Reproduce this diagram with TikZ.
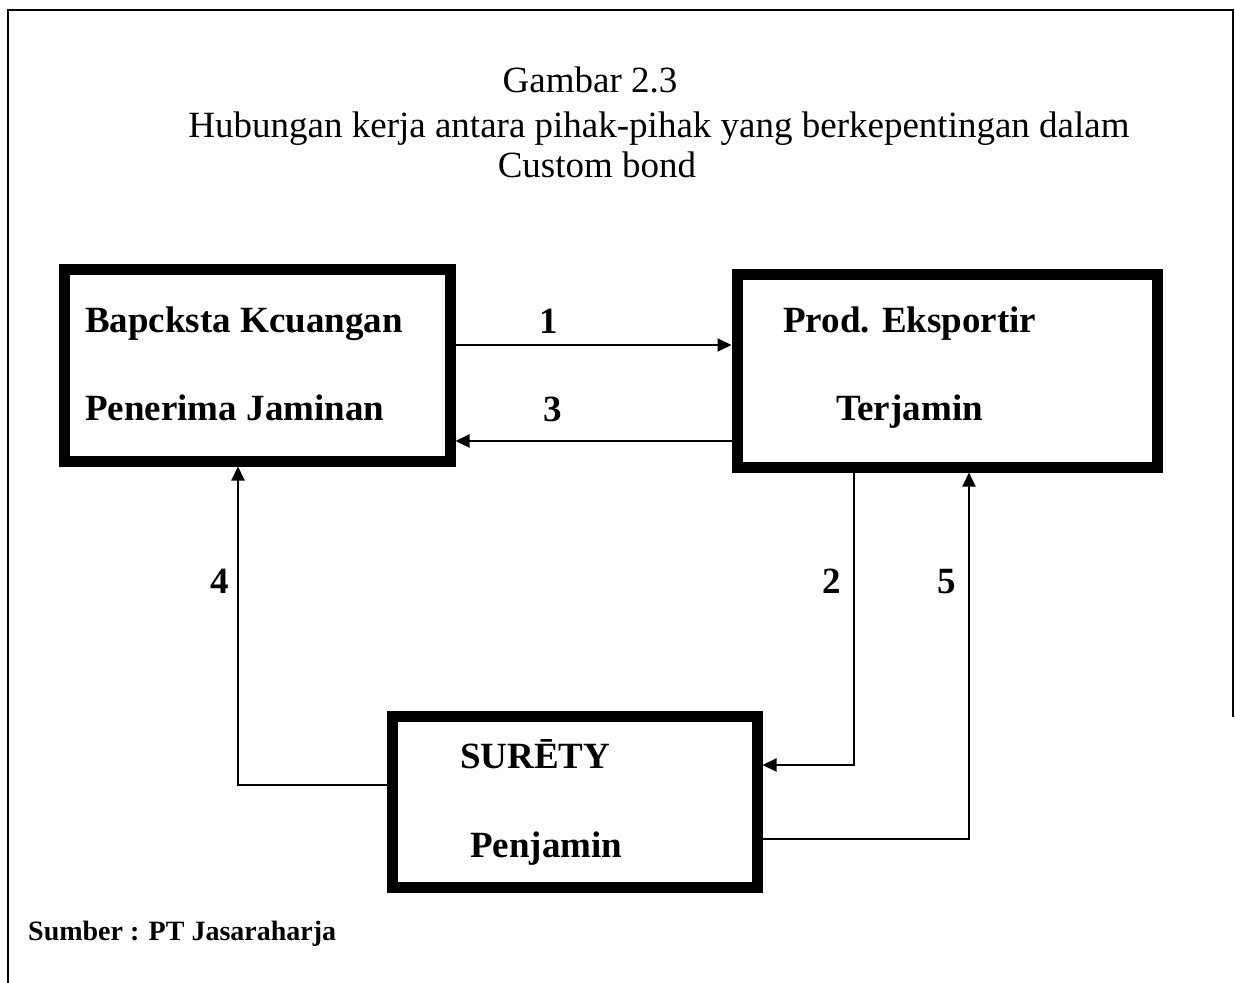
\documentclass[tikz,border=0pt]{standalone}
\usepackage{fontspec}
\setmainfont{Liberation Serif}
\usetikzlibrary{arrows.meta}
\begin{document}
\begin{tikzpicture}[x=1pt,y=-1pt,
  party/.style={draw,line width=11pt,rectangle,inner sep=0pt},
  arr/.style={line width=2pt,-{Triangle[length=14pt,width=13pt]}},
  lbl/.style={inner sep=0pt,anchor=base west,font=\fontsize{37}{44}\selectfont\bfseries},
  num/.style={inner sep=0pt,anchor=base,font=\fontsize{37}{44}\selectfont\bfseries},
  ttl/.style={inner sep=0pt,anchor=base,font=\fontsize{37}{44}\selectfont}]
\useasboundingbox (0,0) rectangle (1235,983);
% frame
\draw[line width=2.5pt] (8,983) -- (8,10) -- (1233,10) -- (1233,717);
% title
\node[ttl] (t1) at (590,92) {Gambar 2.3};
\node[ttl] (t2) at (659,137) {Hubungan kerja antara pihak-pihak yang berkepentingan dalam};
\node[ttl] (t3) at (597,177) {Custom bond};
% parties
\node[party,minimum width=386pt,minimum height=192pt] (A) at (257,365) {};
\node[party,minimum width=420pt,minimum height=193pt] (B) at (947,370.5) {};
\node[party,minimum width=365pt,minimum height=171pt] (C) at (574.5,801.5) {};
\node[lbl] (a1) at (85,332) {Bapcksta Kcuangan};
\node[lbl] (a2) at (85,420) {Penerima Jaminan};
\node[lbl] (b1) at (783,332) {Prod. Eksportir};
\node[lbl] (b2) at (836,420) {Terjamin};
\node[lbl] (c1) at (460,768) {SURĒTY};
\node[lbl] (c2) at (470,857) {Penjamin};
% connectors
\draw[arr] ([yshift=20pt]A.east) -- ([yshift=20pt]A.east -| B.west);
\draw[arr] ([yshift=-76pt]A.east -| B.west) -- ([yshift=-76pt]A.east);
\draw[arr] ([yshift=16.5pt]C.west) -| ([xshift=-19pt]A.south);
\draw[arr] ([xshift=-93pt]B.south) |- ([yshift=36.5pt]C.east);
\draw[arr] ([yshift=-37.5pt]C.east) -| ([xshift=22pt]B.south);
% flow numbers
\node[num] (n1) at (549,333) {1};
\node[num] (n3) at (553,421) {3};
\node[num] (n4) at (220,593) {4};
\node[num] (n2) at (832,593) {2};
\node[num] (n5) at (947,593) {5};
% source
\node[inner sep=0pt,anchor=base west,font=\fontsize{28}{32}\selectfont\bfseries] (src) at (28,940) {Sumber : PT Jasaraharja};
\end{tikzpicture}
\end{document}
